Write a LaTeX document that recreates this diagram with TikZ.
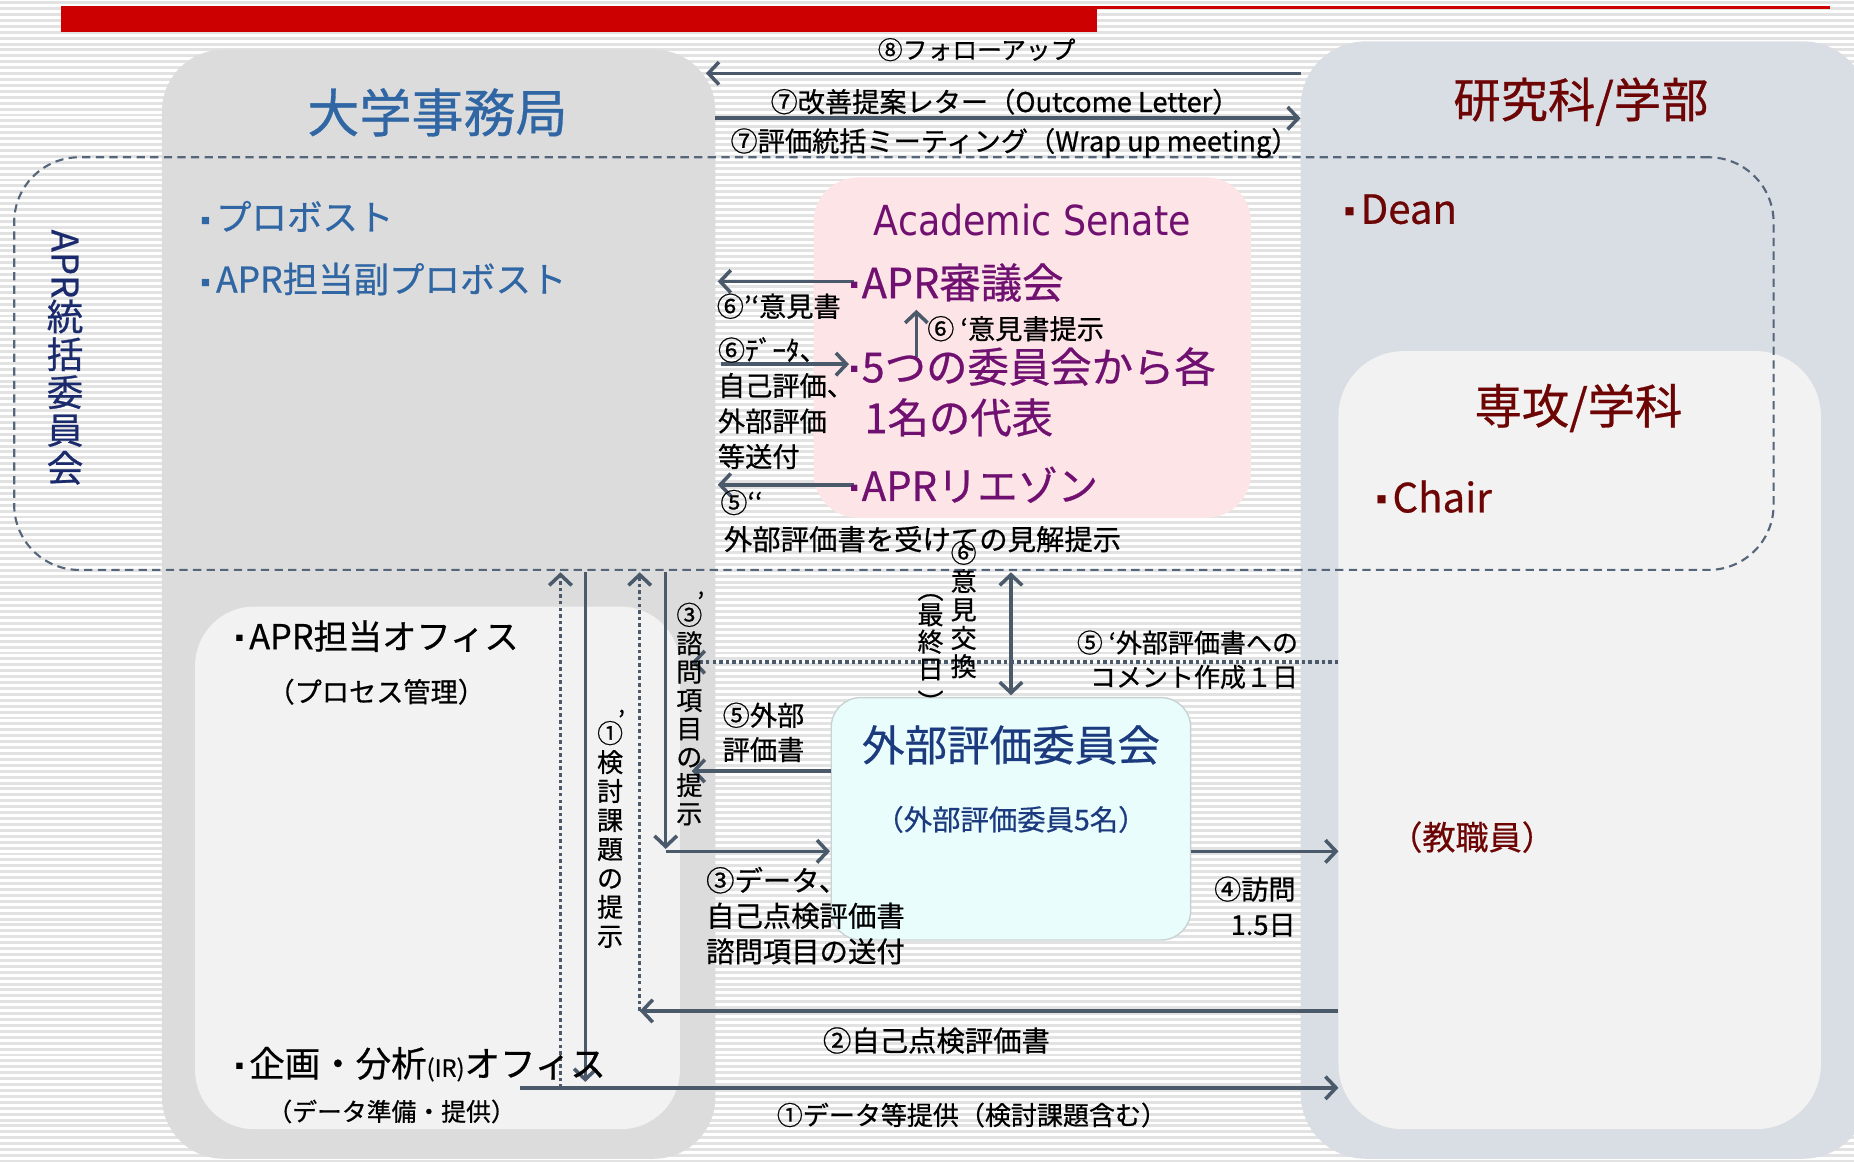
\documentclass[tikz,border=0pt]{standalone}
\usepackage{fontspec}
\setmainfont{Noto Sans CJK JP}[FakeBold=0.6]
\newfontfamily\tah{DejaVu Sans}[FakeStretch=0.88]
\newfontfamily\dv{DejaVu Sans}
\usetikzlibrary{arrows.meta}
\definecolor{arrowc}{HTML}{4B5A6B}
\definecolor{stripe}{HTML}{E2E2E2}
\definecolor{lgray}{HTML}{DCDCDC}
\definecolor{rgray}{HTML}{D9DEE5}
\definecolor{innerc}{HTML}{F2F2F2}
\definecolor{pinkbg}{HTML}{FDE4E6}
\definecolor{cyanbg}{HTML}{EAFDFD}
\definecolor{cyanbd}{HTML}{C9D3D3}
\definecolor{blueone}{HTML}{2F66A3}
\definecolor{maroonone}{HTML}{6E0505}
\definecolor{purp}{HTML}{701070}
\definecolor{navyone}{HTML}{1C3A7E}
\definecolor{navytwo}{HTML}{1A2A6C}
\definecolor{redbar}{HTML}{CC0000}
\definecolor{dashc}{HTML}{56667A}
\newcommand\fs[2]{\fontsize{#1}{#2}\selectfont}
% square bullet: #1 = square size, #2 = raise
\newcommand\sqb[2]{\raisebox{#2}{\dv\fs{#1}{#1}■}\kern5pt}
\newcommand\primemk{\rlap{\kern-0.2em\raisebox{0.5em}{’}}}
\begin{document}
\begin{tikzpicture}[x=1pt,y=-1pt,
  tip/.tip={Straight Barb[length=9pt,width=19pt]},
  arr/.style={draw=arrowc, line width=3pt, -tip},
  darr/.style={draw=arrowc, line width=3pt, tip-tip},
  dotarr/.style={draw=arrowc, line width=3pt, dash pattern=on 3pt off 2.6pt, -tip},
  box/.style={inner sep=0pt, outer sep=0pt, anchor=north west, rectangle},
  t/.style={inner sep=0pt, font=\fs{23}{28}},
]
\useasboundingbox (0,0) rectangle (1568,982);
% background stripes
\fill[white] (0,0) rectangle (1568,982);
\foreach \k in {0,...,196}{\fill[stripe] (0,{\k*5+1}) rectangle (1568,{\k*5+3.5});}
% red header
\fill[redbar] (52,5) rectangle (928,27);
\fill[redbar] (928,5) rectangle (1548,7.5);
% boxes
\node[box, fill=lgray, rounded corners=52pt, minimum width=468pt, minimum height=938pt] (univ) at (137,42) {};
\node[box, fill=rgray, rounded corners=55pt, minimum width=480pt, minimum height=945pt] (fac) at (1100,35) {};
\node[box, fill=innerc, rounded corners=50pt, minimum width=410pt, minimum height=442pt] (office) at (165,513) {};
\node[box, fill=innerc, rounded corners=55pt, minimum width=408pt, minimum height=658pt] (dept) at (1132,297) {};
\node[box, fill=pinkbg, rounded corners=38pt, minimum width=370pt, minimum height=288pt] (senate) at (688,150) {};
\node[box, fill=cyanbg, draw=cyanbd, line width=1.2pt, rounded corners=25pt, minimum width=304pt, minimum height=205pt] (ext) at (703,590) {};
\node[box, draw=dashc, dash pattern=on 7pt off 4.5pt, line width=1.8pt, rounded corners=55pt, minimum width=1488pt, minimum height=349pt] (aprc) at (12,133) {};

% coordinates for connectors
\coordinate (a8s) at (1100,62); \coordinate (a8e) at (597,62);
\coordinate (a7s) at (605,100); \coordinate (a7e) at (1100,100);
\coordinate (b6s) at (722,238); \coordinate (b6e) at (607,238);
\coordinate (d6s) at (610,308); \coordinate (d6e) at (718,308);
\coordinate (u6s) at (775,302); \coordinate (u6e) at (775,262);
\coordinate (b5s) at (722,410); \coordinate (b5e) at (607,410);
\coordinate (x6s) at (855,484); \coordinate (x6e) at (855,588);
\coordinate (c5s) at (1132,560); \coordinate (c5e) at (585,560);
\coordinate (e5s) at (703,652); \coordinate (e5e) at (585,652);
\coordinate (v3s) at (563,484); \coordinate (v3e) at (563,718);
\coordinate (h3s) at (563,720); \coordinate (h3e) at (702,720);
\coordinate (a4s) at (1007,720); \coordinate (a4e) at (1132,720);
\coordinate (a2s) at (1132,855); \coordinate (a2e) at (541,855);
\coordinate (q2s) at (541,855); \coordinate (q2e) at (541,484);
\coordinate (a1s) at (440,920); \coordinate (a1e) at (1132,920);
\coordinate (q1s) at (474,920); \coordinate (q1e) at (474,484);
\coordinate (v1s) at (495,484); \coordinate (v1e) at (495,915);

\draw[arr] (a8s) -- (a8e);
\draw[arr] (a7s) -- (a7e);
\draw[arr] (b6s) -- (b6e);
\draw[arr] (d6s) -- (d6e);
\draw[arr] (u6s) -- (u6e);
\draw[arr] (b5s) -- (b5e);
\draw[darr] (x6s) -- (x6e);
\draw[dotarr] (c5s) -- (c5e);
\draw[arr] (e5s) -- (e5e);
\draw[arr] (v3s) -- (v3e);
\draw[arr] (h3s) -- (h3e);
\draw[arr] (a4s) -- (a4e);
\draw[arr] (a2s) -- (a2e);
\draw[dotarr] (q2s) -- (q2e);
\draw[arr] (a1s) -- (a1e);
\draw[dotarr] (q1s) -- (q1e);
\draw[arr] (v1s) -- (v1e);

% top labels
\node[t, font=\fs{21}{25}] (l8) at (826,42) {⑧フォローアップ};
\node[t, font=\fs{23}{26}] (l7a) at (850,86) {⑦改善提案レター（Outcome Letter）};
\node[t, font=\fs{23}{26}] (l7b) at (858,121) {⑦評価統括ミーティング（Wrap up meeting）};

% university office
\node[t, font=\fs{44}{50}, text=blueone] (univt) at (370,95) {大学事務局};
\node[t, anchor=west, font=\fs{30}{36}, text=blueone] (prov) at (170,183) {\sqb{8}{6pt}プロボスト};
\node[t, anchor=west, font=\fs{30}{36}, text=blueone] (vprov) at (170,236) {\sqb{8}{6pt}APR担当副プロボスト};
\node[t, anchor=north, font=\fs{31}{32}, text=navytwo, align=center] (aprct) at (55,194) {\rotatebox{-90}{APR}\\統\\括\\委\\員\\会};

% faculty
\node[t, font=\fs{40}{46}, text=maroonone] (fact) at (1337,86) {研究科/学部};
\node[t, anchor=west, font=\fs{34}{40}, text=maroonone] (dean) at (1137,177) {\sqb{9}{8pt}Dean};
\node[t, font=\fs{40}{46}, text=maroonone] (deptt) at (1335,345) {専攻/学科};
\node[t, anchor=west, font=\fs{34}{40}, text=maroonone] (chair) at (1164,420) {\sqb{9}{8pt}Chair};
\node[t, font=\fs{28}{32}, text=maroonone] (staff) at (1245,708) {（教職員）};

% senate
\node[t, font=\tah\fs{35}{40}, text=purp] (sent) at (873,186) {Academic Senate};
\node[t, anchor=west, font=\fs{35}{40}, text=purp] (shingi) at (719,239) {\sqb{7}{9pt}\kern-2pt APR審議会};
\node[t, anchor=west, font=\fs{35}{40}, text=purp] (repa) at (719,310) {\sqb{7}{9pt}\kern-2pt 5つの委員会から各};
\node[t, anchor=west, font=\fs{35}{40}, text=purp] (repb) at (731,353) {1名の代表};
\node[t, anchor=west, font=\fs{34}{40}, text=purp] (liaison) at (719,410) {\sqb{7}{9pt}\kern-2pt APRリエゾン};

% middle labels
\node[t, anchor=west] (l6pp) at (606,259) {⑥’‘意見書};
\node[t, anchor=north west, align=left, font=\fs{23}{30}] (l6d) at (607,285) {⑥ﾃﾞｰﾀ、\\自己評価、\\外部評価\\等送付};
\node[t, anchor=west] (l6p) at (784,278) {⑥ ‘意見書提示};
\node[t, anchor=west] (l5pp) at (609,425) {⑤‘‘};
\node[t, anchor=west, font=\fs{24}{28}] (l5ppb) at (612,456) {外部評価書を受けての見解提示};

% vertical labels
\node[t, anchor=north, align=center, font=\fs{22}{24}] (l6x) at (815,457) {⑥\\意\\見\\交\\換};
\node[t, anchor=north, align=center, font=\fs{22}{23}] (l6xd) at (787,487) {\rotatebox{-90}{（}\\最\\終\\日\\[-14pt]\rotatebox{-90}{）}};
\node[t, anchor=north, align=center, font=\fs{22}{24.5}] (l1p) at (516,600) {①\primemk\\検\\討\\課\\題\\の\\提\\示};
\node[t, anchor=north, align=center, font=\fs{22}{24}] (l3p) at (583,500) {③\primemk\\諮\\問\\項\\目\\の\\提\\示};

% lower labels
\node[t, anchor=north west, align=left, font=\fs{23}{29}] (l5) at (611,594) {⑤外部\\評価書};
\node[t, anchor=north west, align=left, font=\fs{24}{30}] (l3) at (597,733) {③データ、\\自己点検評価書\\諮問項目の送付};
\node[t, anchor=north east, align=right, font=\fs{23}{30}] (l4) at (1096,741) {④訪問\\1.5日};
\node[t, anchor=north east, align=right, font=\fs{22}{29}] (l5p) at (1098,533) {⑤ ‘外部評価書への\\コメント作成１日};
\node[t, font=\fs{24}{28}] (l2) at (792,880) {②自己点検評価書};
\node[t, font=\fs{22}{26}] (l1) at (822,943) {①データ等提供（検討課題含む）};

% office box
\node[t, anchor=west, font=\fs{29}{34}] (aprof) at (199,538) {\sqb{7}{7pt}APR担当オフィス};
\node[t, anchor=west, font=\fs{23}{28}] (proc) at (226,585) {（プロセス管理）};
\node[t, anchor=west, font=\fs{30}{34}] (irof) at (199,900) {\sqb{7}{7pt}企画・分析{\fs{20}{24}(IR)}オフィス};
\node[t, anchor=west, font=\fs{21}{26}] (dprep) at (226,940) {（データ準備・提供）};

% external committee
\node[t, font=\fs{36}{40}, text=navyone] (extt) at (855,630) {外部評価委員会};
\node[t, font=\fs{24}{28}, text=navyone] (extn) at (855,693) {（外部評価委員5名）};
\end{tikzpicture}
\end{document}
